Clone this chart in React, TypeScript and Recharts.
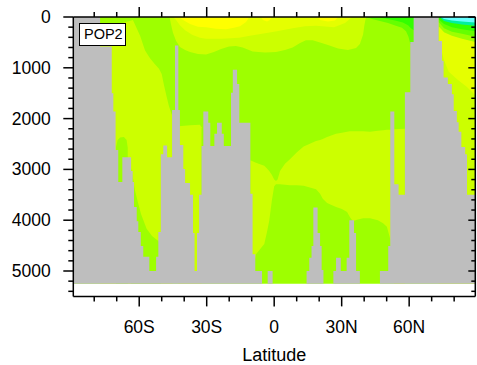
import { Area, ComposedChart, XAxis, YAxis } from 'recharts';

const FONT = '"Liberation Sans", Arial, Helvetica, sans-serif';

const LAT_MIN = -89.3;
const LAT_MAX = 89.4;
const DEPTH_MAX = 5500;
const SEA_BOTTOM = 5250;

const GRAY = '#bebebe';
const GREEN = '#9eff00';
const YGREEN = '#ccff00';
const LIGHT = '#e5ff00';
const YELLOW = '#ffff00';
const GREEN2 = '#66ff00';
const GREEN3 = '#33ff00';
const TEAL = '#00f0a0';
const CYAN = '#66ffff';

const latTicks = [-80, -70, -60, -50, -40, -30, -20, -10, 0, 10, 20, 30, 40, 50, 60, 70, 80];
const latMajor = [-60, -30, 0, 30, 60];
const latMajorLabels = ['60S', '30S', '0', '30N', '60N'];
const depthTicks = [
  0, 200, 400, 600, 800, 1000, 1200, 1400, 1600, 1800, 2000, 2200, 2400, 2600, 2800,
  3000, 3200, 3400, 3600, 3800, 4000, 4200, 4400, 4600, 4800, 5000, 5200, 5400,
];

// ocean floor, step after each latitude: [lat, depth]
const floor: [number, number][] = [
  [-89.3, 0], [-77.4, 580], [-72.2, 1500], [-71.5, 1860], [-70.5, 2620], [-69.3, 3250],
  [-67.5, 2760], [-63.6, 3030], [-62.9, 3250], [-62.3, 3740], [-61.1, 4020], [-60.4, 4230],
  [-59.3, 4510], [-58.2, 4720], [-55.5, 5000], [-52.5, 4720], [-51.5, 4230], [-50.4, 2700],
  [-49.3, 2530], [-47.6, 2760], [-45.4, 1830], [-44.1, 560], [-42.6, 1830], [-41.9, 2520],
  [-40.4, 2990], [-39.6, 3270], [-37.4, 3500], [-36.1, 4250], [-35.4, 5000], [-34.3, 4250],
  [-33.4, 3500], [-32.3, 2540], [-31.5, 1860], [-29.3, 2080], [-28.4, 2540], [-26.6, 2300],
  [-25.4, 2080], [-23.3, 2300], [-22.4, 2540], [-19.2, 1490], [-18.4, 1040], [-16.5, 1320],
  [-15.5, 2080], [-10.6, 3480], [-9.6, 4670], [-8.4, 5000], [-5.4, 5250], [-2.9, 5000],
  [-0.7, 5250], [14.4, 5000], [15.6, 4740], [16.6, 4510], [17.4, 3750], [19.3, 4250],
  [20.4, 4510], [21.1, 4980], [21.9, 5250], [26.3, 5000], [27.5, 4740], [29.6, 5000],
  [32.2, 4740], [33.4, 4000], [35.5, 4250], [36.4, 5000], [38.1, 5250], [47.0, 5000],
  [50.7, 4510], [51.6, 1860], [53.4, 3290], [55.3, 3500], [58.1, 1480], [60.5, 490],
  [62.0, 0], [73.1, 470], [74.6, 860], [75.3, 1190], [77.2, 1320], [79.0, 1520],
  [79.8, 1850], [81.2, 2070], [82.0, 2260], [83.2, 2560], [84.9, 2700], [85.7, 3500],
  [89.4, 3500],
];

// contour bands: [lat, top depth, bottom depth]
const oceanAll = [[-89.3, 0, 5250], [89.4, 0, 5250]];

const southWestYG = [
  [-77.4, 260, 5250], [-65.9, 100, 5250], [-62.8, 60, 5250], [-59.6, 370, 5250],
  [-57.4, 660, 5250], [-55.2, 810, 5250], [-53.0, 930, 5250], [-51.2, 1020, 5250],
  [-50.0, 1120, 5250], [-49.0, 1340, 5250], [-47.8, 1570, 5250], [-46.8, 1750, 5250],
  [-45.6, 1910, 5250], [-45.2, 1950, 5250],
];

const southBlobG = [
  [-70.3, 2560, 5250], [-69.6, 2420, 5250], [-68.5, 2370, 5250], [-66.8, 2360, 5250],
  [-65.6, 2420, 5250], [-65.1, 2580, 5250],
];

const southTrenchG = [
  [-63.6, 2970, 5250], [-62.8, 3170, 5250], [-61.9, 3410, 5250], [-60.5, 3660, 5250],
  [-59.2, 3880, 5250], [-56.7, 4170, 5250], [-54.3, 4310, 5250], [-51.5, 4410, 5250],
  [-50.3, 4510, 5250],
];

const southDeepYG = [
  [-42.6, 2150, 5250], [-37.4, 2130, 5250], [-33.0, 2120, 5250], [-32.3, 2170, 5250],
];

const northDeepYG = [
  [-10.6, 2820, 5250], [-8.1, 2870, 4670], [-6.3, 2900, 4570], [-4.4, 2930, 4470],
  [-3.2, 2980, 4230], [-2.2, 3030, 4010], [-1.0, 3110, 3600], [0.0, 3200, 3330],
  [0.8, 3230, 3290], [1.5, 3200, 3290], [2.6, 3030, 3290], [4.8, 2890, 3300],
  [7.0, 2800, 3310], [10.1, 2660, 3310], [13.1, 2550, 3320], [18.6, 2440, 3390],
  [20.4, 2420, 3480], [21.6, 2400, 3580], [23.5, 2360, 3660], [27.5, 2300, 3740],
  [30.1, 2280, 3780], [32.4, 2260, 3840], [33.7, 2250, 3940], [35.0, 2250, 4020],
  [36.8, 2250, 3990], [39.5, 2250, 3960], [42.6, 2260, 3960], [46.1, 2240, 4000],
  [48.4, 2230, 4060], [50.1, 2220, 4130], [51.7, 2220, 4390], [53.3, 2210, 5250],
  [58.1, 2200, 5250],
];

const surfaceYG = [
  [-46.5, 0, 0], [-45.9, 0, 140], [-45.0, 0, 310], [-43.6, 0, 470], [-41.9, 0, 590],
  [-39.6, 0, 650], [-37.4, 0, 690], [-33.9, 0, 730], [-30.3, 0, 740], [-26.8, 0, 690],
  [-23.6, 0, 630], [-20.1, 0, 580], [-17.0, 0, 570], [-14.0, 0, 600], [-9.6, 0, 680],
  [-4.1, 0, 700], [0.8, 0, 690], [4.8, 0, 650], [8.2, 0, 600], [11.5, 0, 510],
  [14.1, 0, 460], [17.1, 0, 460], [20.4, 0, 500], [23.9, 0, 550], [28.4, 0, 620],
  [32.8, 0, 650], [36.4, 0, 610], [38.1, 0, 530], [39.5, 0, 350], [40.1, 0, 160],
  [40.8, 0, 0],
];

const surfaceLight = [
  [-45.0, 0, 0], [-43.6, 0, 60], [-41.9, 0, 160], [-39.6, 0, 260], [-36.5, 0, 350],
  [-33.0, 0, 410], [-30.3, 0, 430], [-23.2, 0, 430], [-15.6, 0, 410], [-10.8, 0, 370],
  [-5.4, 0, 330], [1.2, 0, 280], [8.2, 0, 220], [13.7, 0, 180], [18.6, 0, 170],
  [26.6, 0, 200], [31.5, 0, 120], [34.6, 0, 0],
];

const surfaceYellowA = [
  [-42.3, 0, 0], [-40.5, 0, 60], [-37.4, 0, 140], [-33.9, 0, 190], [-30.3, 0, 200],
  [-25.9, 0, 230], [-21.4, 0, 240], [-17.9, 0, 210], [-15.2, 0, 180], [-12.5, 0, 100],
  [-11.1, 0, 0],
];
const surfaceYellowB = [[-5.9, 0, 0], [-5.0, 0, 60], [-3.2, 0, 90], [-1.9, 0, 60], [-1.0, 0, 0]];
const surfaceYellowC = [[19.0, 0, 0], [20.4, 0, 60], [23.9, 0, 90], [27.0, 0, 70], [28.4, 0, 0]];

const northGreen2 = [
  [40.8, 0, 0], [43.5, 0, 40], [47.0, 0, 80], [50.6, 0, 120], [54.1, 0, 170],
  [56.8, 0, 210], [58.6, 0, 280], [59.7, 0, 390], [60.5, 0, 530], [62.1, 0, 530],
];
const northGreen3 = [
  [45.7, 0, 0], [49.4, 0, 30], [53.7, 0, 70], [57.2, 0, 110], [59.5, 0, 160],
  [60.8, 0, 220], [62.1, 0, 260],
];

const arcticYG = [[73.1, 0, 5250], [89.4, 0, 5250]];
const arcticLight = [[73.1, 0, 450], [75.5, 0, 850], [77.6, 0, 1080], [81.7, 0, 1240], [85.7, 0, 1380], [89.4, 0, 1540]];
const arcticGreen = [[73.1, 0, 180], [75.5, 0, 300], [79.0, 0, 370], [83.5, 0, 430], [89.4, 0, 490]];
const arcticGreen2 = [[73.1, 0, 100], [75.5, 0, 220], [79.0, 0, 290], [83.5, 0, 330], [89.4, 0, 390]];
const arcticGreen3 = [[73.1, 0, 50], [75.5, 0, 140], [79.0, 0, 200], [83.5, 0, 240], [89.4, 0, 280]];
const arcticTeal = [[74.0, 0, 20], [75.5, 0, 80], [79.0, 0, 120], [83.5, 0, 150], [89.4, 0, 170]];
const arcticCyan = [[74.0, 0, 0], [75.5, 0, 40], [79.0, 0, 70], [83.5, 0, 90], [89.4, 0, 110]];

const bands: { id: string; pts: number[][]; color: string }[] = [
  { id: 'ocean', pts: oceanAll, color: GREEN },
  { id: 'swyg', pts: southWestYG, color: YGREEN },
  { id: 'blob', pts: southBlobG, color: GREEN },
  { id: 'trench', pts: southTrenchG, color: GREEN },
  { id: 'sdeep', pts: southDeepYG, color: YGREEN },
  { id: 'ndeep', pts: northDeepYG, color: YGREEN },
  { id: 'surf', pts: surfaceYG, color: YGREEN },
  { id: 'light', pts: surfaceLight, color: LIGHT },
  { id: 'ya', pts: surfaceYellowA, color: YELLOW },
  { id: 'yb', pts: surfaceYellowB, color: YELLOW },
  { id: 'yc', pts: surfaceYellowC, color: YELLOW },
  { id: 'ng2', pts: northGreen2, color: GREEN2 },
  { id: 'ng3', pts: northGreen3, color: GREEN3 },
  { id: 'ayg', pts: arcticYG, color: YGREEN },
  { id: 'al', pts: arcticLight, color: LIGHT },
  { id: 'ag', pts: arcticGreen, color: GREEN },
  { id: 'ag2', pts: arcticGreen2, color: GREEN2 },
  { id: 'ag3', pts: arcticGreen3, color: GREEN3 },
  { id: 'at', pts: arcticTeal, color: TEAL },
  { id: 'ac', pts: arcticCyan, color: CYAN },
];

const toRows = (pts: number[][]) => pts.map(([lat, top, bottom]) => ({ lat, v: [top, bottom] }));
const floorRows = floor.map(([lat, d]) => ({ lat, v: [d, SEA_BOTTOM] }));

const AXIS = { stroke: '#000', strokeWidth: 1.5 };

const BottomTick = ({ x, y, payload }: any) => {
  const i = latMajor.indexOf(payload.value);
  const major = i >= 0;
  return (
    <g>
      <line x1={x} y1={y} x2={x} y2={y + (major ? 10 : 5)} stroke="#000" strokeWidth={1.5} />
      {major && (
        <text x={x} y={y + 37} textAnchor="middle" fontSize={17.5} fontFamily={FONT} fill="#000">
          {latMajorLabels[i]}
        </text>
      )}
    </g>
  );
};

const TopTick = ({ x, y, payload }: any) => {
  const major = latMajor.includes(payload.value);
  return <line x1={x} y1={y} x2={x} y2={y - (major ? 10 : 5)} stroke="#000" strokeWidth={1.5} />;
};

const LeftTick = ({ x, y, payload }: any) => {
  const major = payload.value % 1000 === 0;
  return (
    <g>
      <line x1={x} y1={y} x2={x - (major ? 10 : 5)} y2={y} stroke="#000" strokeWidth={1.5} />
      {major && (
        <text x={x - 22.5} y={y} textAnchor="end" dominantBaseline="central" fontSize={17.5} fontFamily={FONT} fill="#000">
          {payload.value}
        </text>
      )}
    </g>
  );
};

const RightTick = ({ x, y, payload }: any) => {
  const major = payload.value % 1000 === 0;
  return <line x1={x} y1={y} x2={x - (major ? 7 : 4)} y2={y} stroke="#000" strokeWidth={1.5} />;
};

export default function App() {
  return (
    <div style={{ position: 'absolute', left: 0, top: 0, width: 477, height: 365, background: '#fff' }}>
      <ComposedChart width={477} height={365} margin={{ top: 0, right: 0, bottom: 0, left: 0 }}>
        <XAxis
          xAxisId="b" dataKey="lat" type="number" domain={[LAT_MIN, LAT_MAX]} allowDataOverflow
          ticks={latTicks} interval={0} tickSize={0} tickMargin={0} tickLine={false}
          tick={(p: any) => <BottomTick {...p} />} axisLine={AXIS} height={68.6}
          label={{ value: 'Latitude', position: 'insideBottom', offset: 4, fontSize: 18, fill: '#000', fontFamily: FONT }}
        />
        <XAxis
          xAxisId="t" orientation="top" dataKey="lat" type="number" domain={[LAT_MIN, LAT_MAX]} allowDataOverflow
          ticks={latTicks} interval={0} tickSize={0} tickMargin={0} tickLine={false}
          tick={(p: any) => <TopTick {...p} />} axisLine={AXIS} height={17}
        />
        <YAxis
          yAxisId="l" type="number" domain={[0, DEPTH_MAX]} reversed allowDataOverflow
          ticks={depthTicks} interval={0} tickSize={0} tickMargin={0} tickLine={false}
          tick={(p: any) => <LeftTick {...p} />} axisLine={AXIS} width={73.3}
        />
        <YAxis
          yAxisId="r" orientation="right" type="number" domain={[0, DEPTH_MAX]} reversed allowDataOverflow
          ticks={depthTicks} interval={0} tickSize={0} tickMargin={0} tickLine={false}
          tick={(p: any) => <RightTick {...p} />} axisLine={AXIS} width={1.7}
        />
        {bands.map((b) => (
          <Area
            key={b.id}
            xAxisId="b"
            yAxisId="l"
            data={toRows(b.pts)}
            dataKey="v"
            type="linear"
            stroke="none"
            fill={b.color}
            fillOpacity={1}
            dot={false}
            activeDot={false}
            isAnimationActive={false}
          />
        ))}
        <Area
          xAxisId="b"
          yAxisId="l"
          data={floorRows}
          dataKey="v"
          type="stepAfter"
          stroke="none"
          fill={GRAY}
          fillOpacity={1}
          dot={false}
          activeDot={false}
          isAnimationActive={false}
        />
      </ComposedChart>
      <svg width={477} height={365} style={{ position: 'absolute', left: 0, top: 0, pointerEvents: 'none' }}>
        <rect x={79.5} y={23.5} width={46} height={22} fill="#fff" stroke="#000" strokeWidth={1} />
        <text x={84} y={39.3} fontSize={14.5} fontFamily={FONT} fill="#000">POP2</text>
      </svg>
    </div>
  );
}
